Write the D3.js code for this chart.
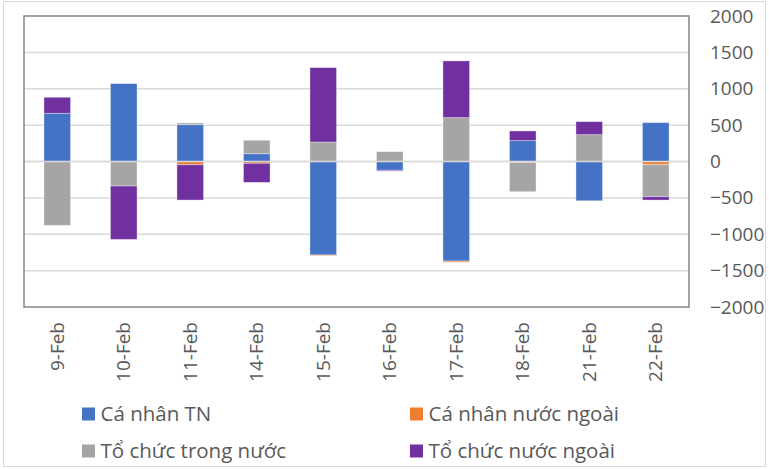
<!DOCTYPE html>
<html>
<head>
<meta charset="utf-8">
<script src="https://cdn.jsdelivr.net/npm/d3@7"></script>
<style>
  body { margin: 0; background: #fff; }
  text { font-family: "Open Sans", "Liberation Sans", Arial, sans-serif; fill: #595959; }
</style>
</head>
<body>
<div id="chart"></div>
<script>
// data
var days = ["9-Feb", "10-Feb", "11-Feb", "14-Feb", "15-Feb", "16-Feb", "17-Feb", "18-Feb", "21-Feb", "22-Feb"];
var seriesNames = ["Cá nhân TN", "Cá nhân nước ngoài", "Tổ chức trong nước", "Tổ chức nước ngoài"];
var caNhanTN      = [663, 1071, 506, 107, -1285, -120, -1368, 287, -540, 534];
var caNhanNN      = [0, 0, -45, -25, -10, 0, -15, -15, 0, -45];
var toChucTN      = [-878, -337, 24, 185, 268, 135, 603, -400, 369, -439];
var toChucNN      = [220, -734, -485, -262, 1023, -12, 780, 133, 179, -46];
var yTicks = [-2000, -1500, -1000, -500, 0, 500, 1000, 1500, 2000];
var colors = ["#4472C4", "#ED7D31", "#A5A5A5", "#7030A0"];

var W = 769, H = 469;
var margin = {top: 16, right: 80, bottom: 162, left: 24},
    width = W - margin.left - margin.right,
    height = H - margin.top - margin.bottom;

var svg = d3.select("#chart").append("svg")
    .attr("width", W)
    .attr("height", H);

// outer frame
svg.append("rect")
  .attr("x", 3.5).attr("y", 1.5)
  .attr("width", 762).attr("height", 465)
  .attr("fill", "none")
  .attr("stroke", "#d9d9d9");

var g = svg.append("g")
  .attr("transform", "translate(" + margin.left + "," + margin.top + ")");

var table = days.map(function(d, i) {
  return {day: d, s0: caNhanTN[i], s1: caNhanNN[i], s2: toChucTN[i], s3: toChucNN[i]};
});

var stack = d3.stack()
  .keys(["s0", "s1", "s2", "s3"])
  .offset(d3.stackOffsetDiverging);
var layers = stack(table);

var x = d3.scaleBand()
  .domain(days)
  .range([0, width])
  .paddingInner(0.6)
  .paddingOuter(0.3);

var y = d3.scaleLinear()
  .domain([-2000, 2000])
  .range([height, 0]);

// gridlines
g.selectAll(".grid")
  .data(yTicks.filter(function(t) { return t > -2000 && t < 2000; }))
  .enter().append("line")
    .attr("x1", 0).attr("x2", width)
    .attr("y1", function(d) { return y(d); })
    .attr("y2", function(d) { return y(d); })
    .attr("stroke", "#d9d9d9")
    .attr("stroke-width", 1.5);

// bars
g.selectAll(".layer")
  .data(layers)
  .enter().append("g")
    .attr("fill", function(d, i) { return colors[i]; })
  .selectAll("rect")
  .data(function(d) { return d; })
  .enter().append("rect")
    .attr("x", function(d) { return x(d.data.day); })
    .attr("y", function(d) { return y(Math.max(d[0], d[1])); })
    .attr("width", x.bandwidth())
    .attr("height", function(d) { return Math.abs(y(d[0]) - y(d[1])); })
    .attr("stroke", "#fff")
    .attr("stroke-opacity", 0.45)
    .attr("stroke-width", 0.8);

// zero line drawn over the bars
g.append("line")
  .attr("x1", 0).attr("x2", width)
  .attr("y1", y(0)).attr("y2", y(0))
  .attr("stroke", "#d9d9d9")
  .attr("stroke-width", 1.5);

// plot border
g.append("rect")
  .attr("width", width).attr("height", height)
  .attr("fill", "none")
  .attr("stroke", "#868686")
  .attr("stroke-width", 1.5);

// right axis labels
var yAxis = g.append("g")
  .attr("transform", "translate(" + (width + 21) + ",0)")
  .call(d3.axisRight(y).tickValues(yTicks).tickSize(0).tickFormat(d3.format("d")));
yAxis.select(".domain").remove();
yAxis.selectAll("text")
  .attr("x", 0)
  .style("font-size", "19px")
  .style("font-family", "Open Sans, Liberation Sans, Arial, sans-serif")
  .attr("fill", "#595959");

// bottom labels, rotated
var xAxis = g.append("g")
  .attr("transform", "translate(0," + height + ")")
  .call(d3.axisBottom(x).tickSize(0));
xAxis.select(".domain").remove();
xAxis.selectAll("text")
  .attr("transform", "rotate(-90)")
  .attr("x", -15)
  .attr("y", 0)
  .attr("dy", "0.35em")
  .style("text-anchor", "end")
  .style("font-size", "19px")
  .style("font-family", "Open Sans, Liberation Sans, Arial, sans-serif")
  .attr("fill", "#595959");

// legend
var legendPos = [[82, 414], [410, 414], [82, 451], [410, 451]];
var legend = svg.selectAll(".legend")
  .data(seriesNames)
  .enter().append("g")
    .attr("transform", function(d, i) { return "translate(" + legendPos[i][0] + "," + legendPos[i][1] + ")"; });
legend.append("rect")
  .attr("x", 0).attr("y", -6.5)
  .attr("width", 13).attr("height", 13)
  .attr("fill", function(d, i) { return colors[i]; });
legend.append("text")
  .attr("x", 18.5)
  .attr("dy", "0.35em")
  .style("font-size", "20.5px")
  .attr("fill", "#595959")
  .text(function(d) { return d; });
</script>
</body>
</html>
